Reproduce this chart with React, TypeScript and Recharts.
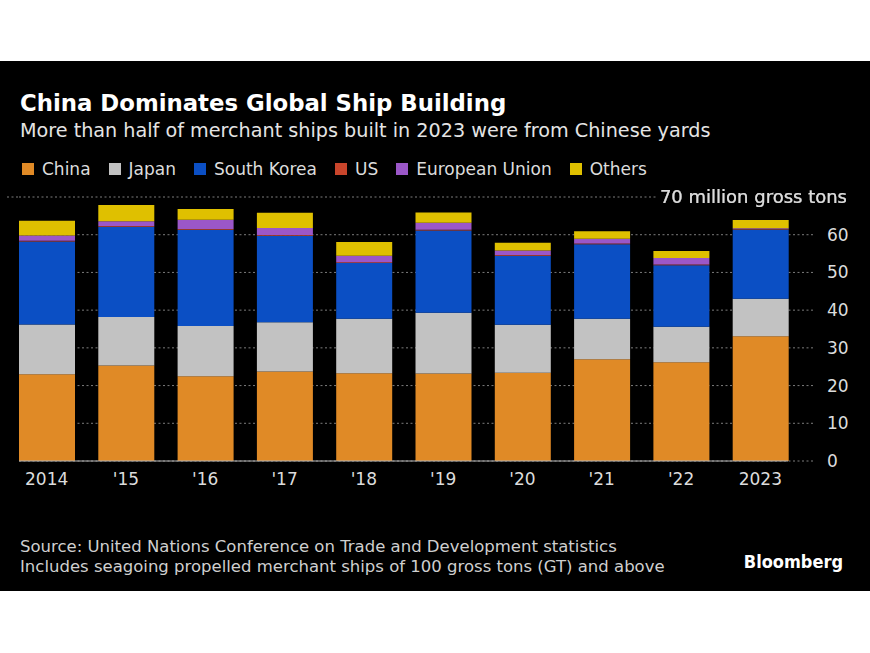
import React from "react";
import { BarChart, Bar, XAxis, YAxis, CartesianGrid } from "recharts";

// million gross tons
const years = ["2014", "'15", "'16", "'17", "'18", "'19", "'20", "'21", "'22", "2023"];
const china = [23.0, 25.3, 22.5, 23.7, 23.3, 23.2, 23.4, 27.0, 26.2, 33.1];
const japan = [13.2, 12.9, 13.3, 13.1, 14.4, 16.1, 12.7, 10.7, 9.4, 9.9];
const korea = [22.0, 23.9, 25.5, 22.9, 14.8, 21.8, 18.3, 19.8, 16.3, 18.4];
const us = [0.2, 0.2, 0.2, 0.2, 0.2, 0.2, 0.2, 0.2, 0.2, 0.1];
const eu = [1.4, 1.3, 2.5, 1.9, 1.7, 1.9, 1.2, 1.2, 1.7, 0.2];
const others = [3.9, 4.3, 2.8, 4.0, 3.7, 2.7, 2.1, 2.0, 1.9, 2.2];
const yTicks = [0, 10, 20, 30, 40, 50, 60, 70];

const series = [
  { key: "china", name: "China", color: "#e08a26" },
  { key: "japan", name: "Japan", color: "#c2c2c2" },
  { key: "korea", name: "South Korea", color: "#0b4fc4" },
  { key: "us", name: "US", color: "#c9452b" },
  { key: "eu", name: "European Union", color: "#9b57c8" },
  { key: "others", name: "Others", color: "#dfc000" },
];

const data = years.map((year, i) => ({
  year,
  china: china[i],
  japan: japan[i],
  korea: korea[i],
  us: us[i],
  eu: eu[i],
  others: others[i],
}));

const FONT = "'DejaVu Sans', sans-serif";

function YTick(props: any) {
  const { x, y, payload } = props;
  if (payload.value === 70) {
    return (
      <g>
        <defs>
          <filter id="unit-bg" x="-0.015" y="0" width="1.03" height="1">
            <feFlood floodColor="#000" />
            <feComposite in="SourceGraphic" operator="over" />
          </filter>
        </defs>
        {/* top rule runs out a little further left than the other gridlines */}
        <line x1={7} x2={19} y1={y} y2={y} stroke="#7c7c7c" strokeDasharray="2 2.5" />
        <text
          x={x + 20}
          y={y}
          dy="0.355em"
          textAnchor="end"
          fill="#dcdcdc"
          fontSize={18}
          fontFamily={FONT}
          filter="url(#unit-bg)"
        >
          70 million gross tons
        </text>
      </g>
    );
  }
  return (
    <text x={x} y={y} dy="0.355em" textAnchor="start" fill="#dcdcdc" fontSize={17} fontFamily={FONT}>
      {payload.value}
    </text>
  );
}

export default function App() {
  return (
    <div
      style={{
        position: "absolute",
        left: 0,
        top: 0,
        width: 870,
        height: 653,
        background: "#fff",
        fontFamily: FONT,
      }}
    >
      <div style={{ position: "absolute", left: 0, top: 61, width: 870, height: 530, background: "#000" }} />

      <div style={{ position: "absolute", left: 0, top: 0 }}>
        <BarChart
          width={870}
          height={653}
          data={data}
          margin={{ top: 197, right: 0, bottom: 162, left: 19 }}
        >
          <CartesianGrid vertical={false} stroke="#7c7c7c" strokeDasharray="2 2.5" />
          <XAxis
            dataKey="year"
            height={30}
            padding={{ left: -12, right: 13 }}
            tickLine={false}
            tickSize={0}
            tickMargin={12}
            axisLine={{ stroke: "#b5b5b5", strokeDasharray: "769 200" }}
            tick={{ fill: "#dcdcdc", fontSize: 17, fontFamily: FONT }}
          />
          <YAxis
            orientation="right"
            width={57}
            domain={[0, 70]}
            ticks={yTicks}
            interval={0}
            axisLine={false}
            tickLine={false}
            tickSize={0}
            tickMargin={14}
            tick={<YTick />}
          />
          {series.map((s) => (
            <Bar
              key={s.key}
              dataKey={s.key}
              name={s.name}
              stackId="total"
              fill={s.color}
              barSize={56}
              isAnimationActive={false}
            />
          ))}
        </BarChart>
      </div>

      <svg
        width={870}
        height={653}
        style={{ position: "absolute", left: 0, top: 0, pointerEvents: "none" }}
      >
        <text x={20} y={111} fill="#fff" fontSize={22.8} fontWeight="bold" fontFamily={FONT}>
          China Dominates Global Ship Building
        </text>
        <text x={20} y={137} fill="#e4e4e4" fontSize={19.2} fontFamily={FONT}>
          More than half of merchant ships built in 2023 were from Chinese yards
        </text>
        <text x={20} y={552} fill="#cfcfcf" fontSize={16.5} fontFamily={FONT}>
          Source: United Nations Conference on Trade and Development statistics
        </text>
        <text x={20} y={572} fill="#cfcfcf" fontSize={16.5} fontFamily={FONT}>
          Includes seagoing propelled merchant ships of 100 gross tons (GT) and above
        </text>
        <text
          x={843}
          y={568}
          textAnchor="end"
          fill="#fff"
          fontSize={18}
          fontWeight="bold"
          fontFamily={"'DejaVu Sans Condensed', 'DejaVu Sans', sans-serif"}
        >
          Bloomberg
        </text>
      </svg>

      <div
        style={{
          position: "absolute",
          left: 22,
          top: 160,
          display: "flex",
          alignItems: "center",
          gap: 18,
          fontSize: 17,
          lineHeight: "18px",
          color: "#dcdcdc",
        }}
      >
        {series.map((s) => (
          <div key={s.key} style={{ display: "flex", alignItems: "center" }}>
            <span style={{ width: 12, height: 12, background: s.color, marginRight: 8 }} />
            <span>{s.name}</span>
          </div>
        ))}
      </div>
    </div>
  );
}
